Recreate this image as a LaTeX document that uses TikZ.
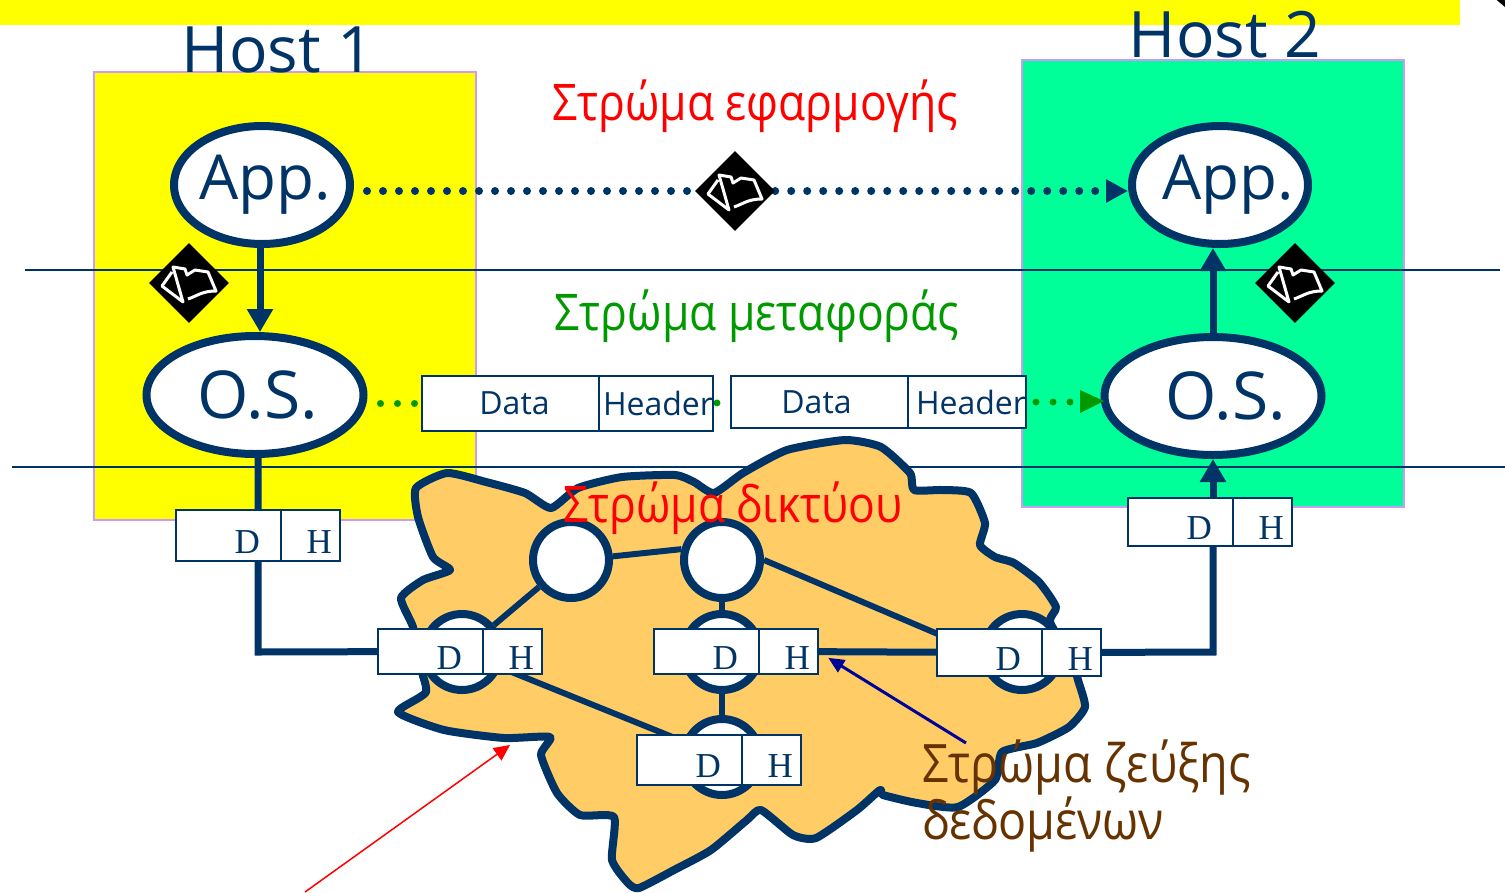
\documentclass[tikz,border=0pt]{standalone}
\usepackage{fontspec}
\setmainfont{Open Sans}
\newfontfamily\cellfont{Liberation Serif}
\newfontfamily\layerfont[FakeStretch=0.88]{Open Sans}
\usetikzlibrary{arrows.meta,shapes.geometric,backgrounds}
\definecolor{netblue}{HTML}{003366}
\definecolor{hostyellow}{HTML}{FFFF00}
\definecolor{hostgreen}{HTML}{00FF99}
\definecolor{hostedge}{HTML}{CC99FF}
\definecolor{cloudfill}{HTML}{FFCC66}
\definecolor{layergreen}{HTML}{009900}
\definecolor{linkbrown}{HTML}{663300}
\definecolor{linkblue}{HTML}{000099}
\tikzset{
  hostbox/.style={draw=hostedge,line width=1.5pt,inner sep=0pt},
  endnode/.style={ellipse,draw=netblue,fill=white,line width=8pt,text=netblue,inner sep=0pt},
  router/.style={circle,draw=netblue,fill=white,line width=8pt,minimum size=76pt,inner sep=0pt},
  mark box/.style={diamond,fill=black,minimum size=80pt,inner sep=0pt},
  mark line/.style={draw=white,line width=3pt,line join=round},
  cell/.style={draw=netblue,fill=white,line width=1.5pt,text=netblue,anchor=north west,inner ysep=0pt,outer sep=0pt},
  datacell/.style={cell,inner xsep=0pt,font=\fontsize{32}{36}\selectfont},
  dcell/.style={cell,text width=63pt,align=right,inner xsep=21pt,font=\cellfont\fontsize{35}{38}\selectfont},
  hcell/.style={cell,text width=43pt,align=right,inner xsep=8pt,font=\cellfont\fontsize{35}{38}\selectfont},
  rule/.style={netblue,line width=1.5pt},
  wire/.style={netblue,line width=6pt},
  trunk/.style={netblue,line width=7pt},
  hop/.style={trunk,-{Triangle[length=23pt,width=25pt]}},
  peer/.style={netblue,line width=8pt,line cap=round,dash pattern=on 0pt off 16pt},
  frame/.style={layergreen,line width=7pt,line cap=round,dash pattern=on 0pt off 17pt},
  layer/.style={inner sep=0pt,font=\layerfont\fontsize{50.5}{57}\selectfont}
}
\begin{document}
\begin{tikzpicture}[x=1pt,y=-1pt]
  \useasboundingbox (0,0) rectangle (1505,892);
  % programs on the hosts
  \node[endnode,minimum width=176pt,minimum height=118pt,font=\fontsize{62}{70}\selectfont] (appone) at (262,185) {\makebox[0pt]{\hspace*{6pt}App.}};
  \node[endnode,minimum width=176pt,minimum height=118pt,font=\fontsize{62}{70}\selectfont] (apptwo) at (1220,185) {\makebox[0pt]{\hspace*{16pt}App.}};
  \node[endnode,minimum width=217pt,minimum height=118pt,font=\fontsize{66}{70}\selectfont] (osone) at (255,395) {\makebox[0pt]{\hspace*{6pt}O.S.}};
  \node[endnode,minimum width=217pt,minimum height=118pt,font=\fontsize{66}{70}\selectfont] (ostwo) at (1213,396) {\makebox[0pt]{\hspace*{26pt}O.S.}};
  % routers
  \node[router] (netone) at (571,560) {};
  \node[router] (nettwo) at (722,560) {};
  \node[router] (netleft) at (462,652) {};
  \node[router] (netmid) at (722,652) {};
  \node[router] (netright) at (1022,652) {};
  \node[router] (netlow) at (722,757) {};
  % marks
  \node[mark box] (marktop) at (735,191) {};
  \node[mark box] (markleft) at (189,283) {};
  \node[mark box] (markright) at (1295,283) {};
  \foreach \m in {marktop,markleft,markright}
    \draw[mark line,shift={(\m)}] (-17,-11) -- (-27,3) -- (-6,19) -- (-16,-16) -- (-4,-14) -- (-2,-8)
      -- (6,-13) -- (19,-11) -- (27,8) .. controls (13,8) and (8,13) .. (-1,16);
  % packets
  \node[datacell,minimum width=177pt,minimum height=55pt] (dataone) at (422,376) {\hspace*{8pt}Data};
  \node[datacell,minimum width=113pt,minimum height=55pt] (headone) at (dataone.north east) {\hspace*{4pt}Header};
  \node[datacell,minimum width=177pt,minimum height=52pt] (datatwo) at (731,376) {\hspace*{-6pt}Data};
  \node[datacell,minimum width=116pt,minimum height=52pt] (headtwo) at (datatwo.north east) {\hspace*{8pt}Header};
  \foreach \n/\x/\y/\h in {sendbox/176/510/51,recvbox/1128/498/48,leftbox/378/629/45,midbox/654/629/45,rightbox/937/629/47,lowbox/637/735/50}{
    \node[dcell,minimum height=\h pt] (\n d) at (\x,\y) {\raisebox{-17.5pt}[0pt][0pt]{D}};
    \node[hcell,minimum height=\h pt] (\n h) at (\n d.north east) {\raisebox{-17.5pt}[0pt][0pt]{H}};
  }
  \coordinate (sendturn) at (258,652);
  \coordinate (recvturn) at (1213,652);
  \begin{pgfonlayer}{background}
    \fill[hostyellow] (0,0) rectangle (1460,25);
    \draw[black,line width=5pt] (1497,-3) -- (1510,8);
    \node[hostbox,fill=hostyellow,minimum width=382pt,minimum height=448pt] (hostone) at (285,296) {};
    \node[hostbox,fill=hostgreen,minimum width=382pt,minimum height=447pt] (hosttwo) at (1213,283.5) {};
    \draw[rule] (25,270) -- (1500,270);
    \draw[rule] (12,467) -- (1505,467);
    \draw[netblue,line width=8pt,fill=cloudfill,line join=round] plot[smooth cycle,tension=0.35] coordinates {
      (416,488) (447,473) (486,482) (525,493) (551,508) (578,488) (622,477) (675,475) (694,482) (714,493)
      (743,473) (787,450) (845,440) (881,447) (910,473) (914,490) (942,490) (971,493) (985,523) (980,545)
      (995,557) (1014,563) (1039,582) (1056,607) (1050,622) (1072,660) (1078,680) (1085,707) (1069,727) (1037,743)
      (1002,752) (995,780) (958,807) (917,803) (883,795) (880,790) (857,810) (816,838) (793,835) (761,810)
      (747,820) (711,850) (674,870) (639,888) (628,883) (612,860) (614,817) (580,815) (557,793) (541,755)
      (550,737) (504,738) (444,730) (398,712) (426,692) (418,660) (413,627) (401,598) (423,580) (450,570)
      (433,557) (418,517)};
    \draw[wire] (netone.5) -- (nettwo.165);
    \draw[wire] (netone) -- (netleft);
    \draw[wire] (nettwo) -- (netmid);
    \draw[wire] (nettwo.east) -- (netright.west);
    \draw[wire] (netmid) -- (netlow);
    \draw[wire] (netleft) -- (netlow);
    \draw[trunk] (osone.south -| sendturn) -- (sendturn) -- (leftboxd);
    \draw[trunk] (midboxh) -- (rightboxd);
    \draw[peer,shorten <=13pt] (appone.east |- marktop) -- (marktop);
    \draw[peer,-{Triangle[length=22pt,width=22pt]}] (marktop) -- (apptwo.west |- marktop);
    \draw[frame,shorten <=13pt] (osone.east |- dataone) -- (dataone);
    \draw[frame,shorten <=4pt] (headone) -- (datatwo);
    \draw[frame,shorten <=10pt,shorten >=20pt] (headtwo) -- (ostwo.west |- headtwo);
  \end{pgfonlayer}
  % connectors
  \draw[hop] (appone.south -| 260,0) -- (osone.north -| 260,0);
  \draw[hop] (ostwo) -- (apptwo.south -| ostwo);
  \draw[trunk] (rightboxh) -- (recvturn) -- (recvboxd.south -| recvturn);
  \draw[hop] (recvboxd.north -| recvturn) -- (ostwo.south);
  \fill[layergreen] (1104,401) -- (1080,390) -- (1080,413) -- cycle;
  \draw[red,line width=1.5pt,-{Triangle[length=16pt,width=15pt]}] (305,892) -- (510,745);
  \draw[linkblue,line width=3pt,shorten >=12pt,-{Triangle[length=16pt,width=14pt]}] (966,743) -- (midboxh.east);
  % names
  \node[text=netblue,font=\fontsize{64}{70}\selectfont] (nameone) at (278,50) {Host 1};
  \node[text=netblue,font=\fontsize{64}{70}\selectfont] (nametwo) at (1225,35) {Host 2};
  \node[layer,text=red] (apptext) at (755,106) {Στρώμα εφαρμογής};
  \node[layer,text=layergreen] (transtext) at (757,316) {Στρώμα μεταφοράς};
  \node[layer,text=red] (nettext) at (733,508) {Στρώμα δικτύου};
  \node[layer,text=linkbrown,anchor=north west,align=left,font=\layerfont\fontsize{53}{57}\selectfont] (linktext) at (922,740) {Στρώμα ζεύξης\\δεδομένων};
\end{tikzpicture}
\end{document}
